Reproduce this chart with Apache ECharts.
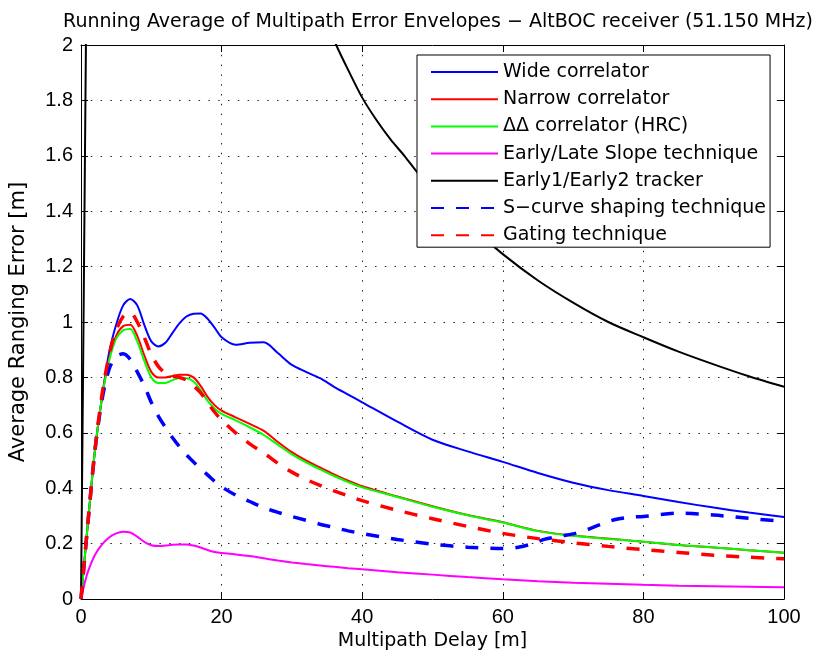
<!DOCTYPE html>
<html>
<head>
<meta charset="utf-8">
<script src="https://cdn.jsdelivr.net/npm/echarts@6/dist/echarts.min.js"></script>
<style>
  html, body { margin: 0; padding: 0; background: #fff; }
  #chart { width: 817px; height: 659px; }
</style>
</head>
<body>
<div id="chart"></div>
<script>
// Multipath delay samples [m] shared by most envelopes
const delay = [0, 0.5, 1, 2, 3, 4, 5, 6, 7, 8, 9, 10, 11, 12, 13, 14, 15, 16, 17, 18, 19, 20,
  22, 24, 26, 28, 30, 32, 34, 36, 38, 40,
  45, 50, 55, 60, 65, 70, 75, 80, 85, 90, 95, 100];

// Running-average ranging error [m]
const wideCorrelator = [0, 0.14, 0.28, 0.54, 0.73, 0.89, 0.99, 1.06, 1.083, 1.06, 0.99, 0.93, 0.912, 0.925, 0.96, 0.995, 1.02, 1.03, 1.031, 1.012, 0.98, 0.945,
  0.918, 0.925, 0.927, 0.888, 0.845, 0.82, 0.797, 0.766, 0.738, 0.71,
  0.64, 0.575, 0.533, 0.495, 0.455, 0.42, 0.393, 0.372, 0.35, 0.33, 0.312, 0.296];

const narrowCorrelator = [0, 0.14, 0.28, 0.54, 0.73, 0.87, 0.95, 0.985, 0.99, 0.95, 0.88, 0.82, 0.80, 0.80, 0.805, 0.81, 0.81, 0.80, 0.77, 0.73, 0.70, 0.68,
  0.656, 0.632, 0.607, 0.567, 0.53, 0.50, 0.475, 0.45, 0.427, 0.407,
  0.37, 0.335, 0.303, 0.277, 0.246, 0.229, 0.218, 0.207, 0.195, 0.186, 0.176, 0.167];

const deltaDeltaCorrelator = [0, 0.14, 0.28, 0.54, 0.73, 0.86, 0.94, 0.97, 0.975, 0.93, 0.86, 0.80, 0.78, 0.78, 0.79, 0.797, 0.797, 0.785, 0.755, 0.715, 0.688, 0.668,
  0.645, 0.62, 0.592, 0.557, 0.522, 0.493, 0.468, 0.444, 0.422, 0.403,
  0.368, 0.333, 0.302, 0.276, 0.245, 0.228, 0.217, 0.207, 0.195, 0.186, 0.176, 0.167];

const elSlope = [0, 0.055, 0.1, 0.16, 0.197, 0.222, 0.237, 0.243, 0.24, 0.225, 0.206, 0.194, 0.191, 0.193, 0.196, 0.197, 0.197, 0.193, 0.186, 0.177, 0.17, 0.166,
  0.161, 0.155, 0.147, 0.139, 0.132, 0.126, 0.121, 0.116, 0.111, 0.107,
  0.097, 0.088, 0.079, 0.071, 0.064, 0.059, 0.055, 0.051, 0.048, 0.046, 0.044, 0.042];

const gating = [0, 0.14, 0.28, 0.54, 0.74, 0.88, 0.97, 1.02, 1.035, 1.00, 0.945, 0.882, 0.84, 0.815, 0.805, 0.80, 0.79, 0.77, 0.745, 0.71, 0.675, 0.646,
  0.60, 0.56, 0.527, 0.49, 0.458, 0.432, 0.41, 0.39, 0.372, 0.355,
  0.32, 0.29, 0.262, 0.237, 0.218, 0.203, 0.19, 0.178, 0.168, 0.158, 0.151, 0.145];

// S-curve shaping envelope, sampled more finely around its late bump
const sCurveDelay = [0, 0.5, 1, 2, 3, 4, 5, 6, 7, 8, 9, 10, 11, 12, 13, 14, 15, 16, 17, 18, 19, 20,
  22, 24, 26, 28, 30, 32, 34, 36, 38, 40,
  45, 50, 55, 60, 62, 64, 66, 68, 70, 72, 74, 76, 78, 80, 85, 90, 95, 100];
const sCurveShaping = [0, 0.14, 0.28, 0.54, 0.72, 0.83, 0.875, 0.885, 0.865, 0.82, 0.77, 0.71, 0.66, 0.62, 0.583, 0.55, 0.52, 0.495, 0.47, 0.448, 0.425, 0.405,
  0.375, 0.352, 0.33, 0.313, 0.298, 0.284, 0.27, 0.258, 0.246, 0.236,
  0.215, 0.198, 0.187, 0.182, 0.186, 0.198, 0.216, 0.226, 0.235, 0.25, 0.27, 0.287, 0.295, 0.298,
  0.31, 0.303, 0.291, 0.28];

// Early1/Early2 tracker: leaves the top of the axes almost at once and re-enters near 36 m
const trackerDelay = [0, 0.2, 0.4, 0.7, 1.0, 35, 36.3, 38, 40, 42, 44, 46, 48, 50, 55, 60, 65, 70, 75, 80, 85, 90, 95, 100];
const early1Early2 = [0, 0.56, 1.12, 2.0, 2.85, 2.08, 2.0, 1.91, 1.81, 1.73, 1.66, 1.6, 1.535, 1.48, 1.355, 1.245, 1.15, 1.07, 1.0, 0.945, 0.893, 0.847, 0.804, 0.766];

// Axis ticks
const xTicks = { min: 0, max: 100, interval: 20 };
const yTicks = { min: 0, max: 2, interval: 0.2 };

const TEXT_FONT = '"DejaVu Sans", "Liberation Sans", Arial, sans-serif';
const TICK_FONT = '"Liberation Sans", Arial, Helvetica, sans-serif';

function pairs(xs, ys) {
  return xs.map((x, i) => [x, ys[i]]);
}

function solid(name, color, xs, ys) {
  return {
    name, type: 'line', xAxisIndex: 0, yAxisIndex: 0,
    data: pairs(xs, ys), showSymbol: false, symbol: 'none',
    smooth: 0.3, clip: true,
    lineStyle: { color, width: 2 }, itemStyle: { color },
    emphasis: { disabled: true }, animation: false
  };
}

function dashed(name, color, xs, ys) {
  return {
    name, type: 'line', xAxisIndex: 0, yAxisIndex: 0,
    data: pairs(xs, ys), showSymbol: false, symbol: 'none',
    smooth: 0.3, clip: true,
    lineStyle: { color, width: 3.5, type: [13, 12], cap: 'butt' }, itemStyle: { color },
    emphasis: { disabled: true }, animation: false
  };
}

const chart = echarts.init(document.getElementById('chart'), null, { renderer: 'canvas' });

const gridDots = { show: true, lineStyle: { color: '#222', width: 1, type: [1.5, 8.3] } };
const frame = { show: true, onZero: false, lineStyle: { color: '#000', width: 1 } };
const inTicks = { show: true, inside: true, length: 7, lineStyle: { color: '#000' } };

chart.setOption({
  backgroundColor: '#fff',
  animation: false,
  textStyle: { fontFamily: TEXT_FONT },
  title: {
    text: 'Running Average of Multipath Error Envelopes \u2212 AltBOC receiver (51.150 MHz)',
    left: 433, top: 8, textAlign: 'center',
    textStyle: { fontFamily: TEXT_FONT, fontSize: 19, fontWeight: 'normal', color: '#000' }
  },
  grid: { left: 79, right: 33, top: 45, bottom: 60, containLabel: false },
  legend: {
    orient: 'vertical',
    left: 417, top: 55,
    padding: [7, 4, 2, 13],
    itemWidth: 67, itemHeight: 20, itemGap: 7.2,
    backgroundColor: '#fff', borderColor: '#000', borderWidth: 1,
    itemStyle: { opacity: 0, borderWidth: 0 },
    textStyle: { fontFamily: TEXT_FONT, fontSize: 19, color: '#000', lineHeight: 20 },
    data: ['Wide correlator', 'Narrow correlator', '\u0394\u0394 correlator (HRC)',
      'Early/Late Slope technique', 'Early1/Early2 tracker',
      'S\u2212curve shaping technique', 'Gating technique'],
    selectedMode: false
  },
  xAxis: [
    {
      type: 'value', position: 'bottom', ...xTicks,
      name: 'Multipath Delay [m]', nameLocation: 'middle', nameGap: 28,
      nameTextStyle: { fontFamily: TEXT_FONT, fontSize: 19, color: '#000' },
      axisLine: frame, axisTick: inTicks,
      axisLabel: { fontFamily: TICK_FONT, fontSize: 20, color: '#000', margin: 8 },
      splitLine: gridDots
    },
    {
      type: 'value', position: 'top', ...xTicks,
      axisLine: frame, axisTick: inTicks,
      axisLabel: { show: false }, splitLine: { show: false }
    }
  ],
  yAxis: [
    {
      type: 'value', position: 'left', ...yTicks,
      name: 'Average Ranging Error [m]', nameLocation: 'middle', nameGap: 52,
      nameTextStyle: { fontFamily: TEXT_FONT, fontSize: 21, color: '#000' },
      axisLine: frame, axisTick: inTicks,
      axisLabel: { fontFamily: TICK_FONT, fontSize: 20, color: '#000', margin: 8 },
      splitLine: gridDots
    },
    {
      type: 'value', position: 'right', ...yTicks,
      axisLine: frame, axisTick: inTicks,
      axisLabel: { show: false }, splitLine: { show: false }
    }
  ],
  series: [
    solid('Wide correlator', '#0000ff', delay, wideCorrelator),
    solid('Narrow correlator', '#ff0000', delay, narrowCorrelator),
    solid('\u0394\u0394 correlator (HRC)', '#00ff00', delay, deltaDeltaCorrelator),
    solid('Early/Late Slope technique', '#ff00ff', delay, elSlope),
    solid('Early1/Early2 tracker', '#000000', trackerDelay, early1Early2),
    dashed('S\u2212curve shaping technique', '#0000ff', sCurveDelay, sCurveShaping),
    dashed('Gating technique', '#ff0000', delay, gating)
  ]
});
</script>
</body>
</html>
